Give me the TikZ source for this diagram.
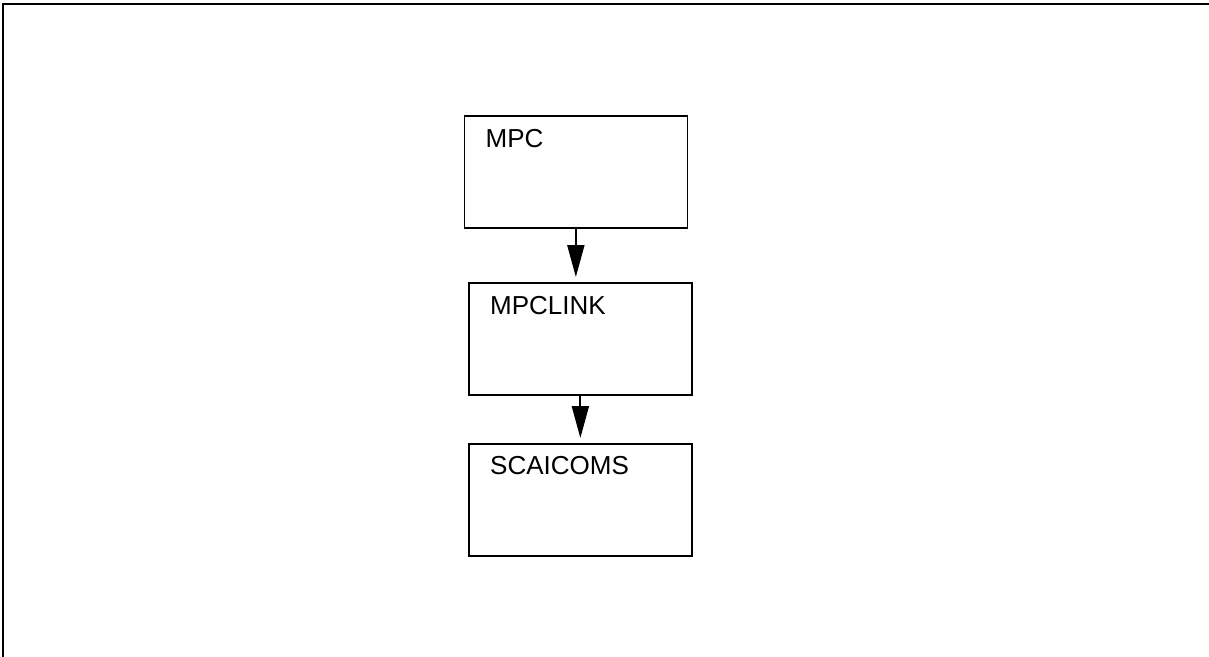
\documentclass[tikz,border=0pt]{standalone}
\usepackage{fontspec}
\setmainfont{Liberation Sans}
\usetikzlibrary{arrows.meta}
\begin{document}
\begin{tikzpicture}[x=1pt,y=-1pt,
  box/.style={draw,line width=1.7pt,minimum width=223pt,minimum height=112pt,inner sep=0pt,anchor=north west},
  lbl/.style={anchor=base west,inner sep=0pt,font=\fontsize{26}{30}\selectfont},
  conn/.style={line width=2pt,-{Triangle[width=17pt,length=32pt]},shorten >=5pt}]
\useasboundingbox (0,0) rectangle (1209,656);
\draw[line width=1.8pt] (3,664) -- (3,4) -- (1218,4);
\node[box] (mpc) at (463.5,115) {};
\node[box] (link) at (468,282) {};
\node[box] (scai) at (468,443) {};
\node[lbl] (t1) at ([xshift=22pt,yshift=-32pt]mpc.north west) {MPC};
\node[lbl] (t2) at ([xshift=22pt,yshift=-32pt]link.north west) {MPCLINK};
\node[lbl] (t3) at ([xshift=22pt,yshift=-31pt]scai.north west) {SCAICOMS};
\draw[conn] (mpc.south) -- (mpc.south |- link.north);
\draw[conn] (link.south) -- (link.south |- scai.north);
\end{tikzpicture}
\end{document}
